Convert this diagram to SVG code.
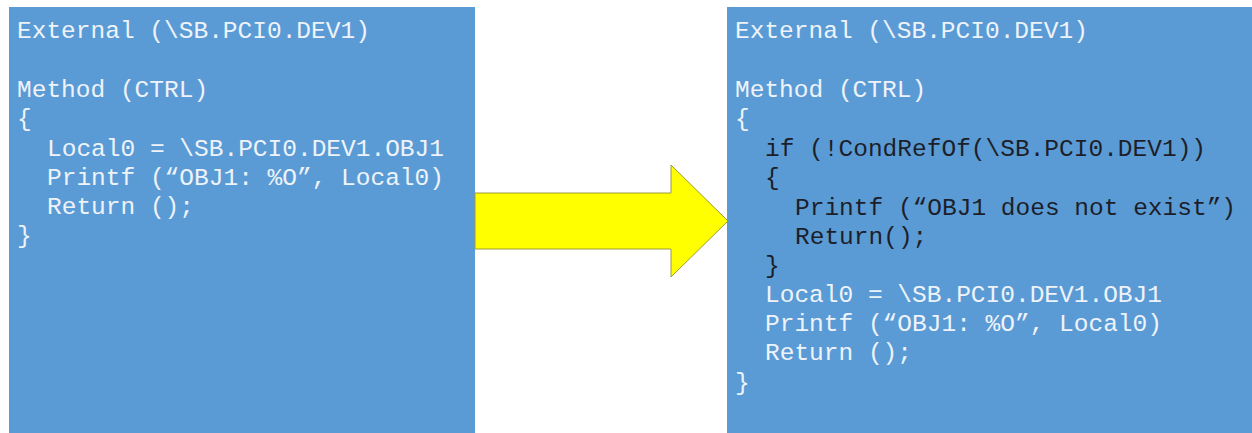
<svg xmlns="http://www.w3.org/2000/svg" width="1252" height="433" viewBox="0 0 1252 433">
<style>
.box{fill:#5b9bd5;}
.code{font-family:"Liberation Mono","Courier New",monospace;font-size:24.5px;}
.lt{fill:#eef3fa;}
.dk{fill:#1c1f2a;}
.arrow{fill:#ffff00;stroke:#9a9a40;stroke-width:1;}
</style>
<rect width="1252" height="433" fill="#ffffff"/>
<g id="before">
<rect class="box" x="9" y="7" width="466" height="426"/>
<text class="code lt" x="17" y="38">External (\SB.PCI0.DEV1)</text>
<text class="code lt" x="17" y="97">Method (CTRL)</text>
<text class="code lt" x="17" y="126">{</text>
<text class="code lt" x="47" y="156">Local0 = \SB.PCI0.DEV1.OBJ1</text>
<text class="code lt" x="47" y="185">Printf (“OBJ1: %O”, Local0)</text>
<text class="code lt" x="47" y="214">Return ();</text>
<text class="code lt" x="17" y="243">}</text>
</g>
<g id="after">
<rect class="box" x="727" y="7" width="525" height="426"/>
<text class="code lt" x="735" y="38">External (\SB.PCI0.DEV1)</text>
<text class="code lt" x="735" y="97">Method (CTRL)</text>
<text class="code lt" x="735" y="126">{</text>
<text class="code dk" x="765" y="156">if (!CondRefOf(\SB.PCI0.DEV1))</text>
<text class="code dk" x="765" y="185">{</text>
<text class="code dk" x="795" y="215">Printf (“OBJ1 does not exist”)</text>
<text class="code dk" x="795" y="244">Return();</text>
<text class="code dk" x="765" y="273">}</text>
<text class="code lt" x="765" y="302">Local0 = \SB.PCI0.DEV1.OBJ1</text>
<text class="code lt" x="765" y="331">Printf (“OBJ1: %O”, Local0)</text>
<text class="code lt" x="765" y="360">Return ();</text>
<text class="code lt" x="735" y="390">}</text>
</g>
<g id="connectors">
<path class="arrow" d="M475,193 L671,193 L671,165 L728,221 L671,277 L671,249 L475,249 Z"/>
</g>
</svg>
